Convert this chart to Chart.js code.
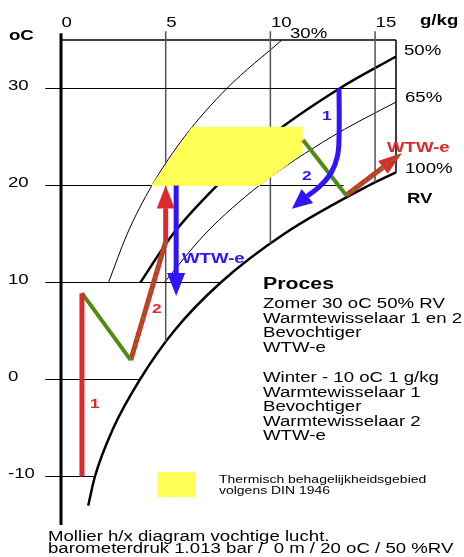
<!DOCTYPE html>
<html>
<head>
<meta charset="utf-8">
<script src="https://cdn.jsdelivr.net/npm/chart.js@4.4.1/dist/chart.umd.min.js"></script>
<style>
  html, body { margin: 0; padding: 0; background: #fff; }
  canvas { display: block; }
</style>
</head>
<body>
<canvas id="mollier" width="464" height="557"></canvas>
<script>
// x = absolute vocht g/kg, y = temperatuur oC
const xTicks = [0, 5, 10, 15];
const yTicks = [-10, 0, 10, 20, 30];

const rh30 = [[2.27, 10], [3.16, 15], [4.34, 20], [5.89, 25], [7.92, 30], [10.55, 35]];
const rh50 = [[3.79, 10], [5.35, 15], [7.45, 20], [9.95, 25], [13.3, 30], [16, 33.3]];
const rh65 = [[4.93, 10], [6.88, 15], [9.47, 20], [12.91, 25], [15.46, 28], [16, 28.6]];
const rh100 = [[1.3, -13], [1.62, -10], [2.5, -5], [3.77, 0], [5.4, 5], [7.63, 10], [10.65, 15], [14.7, 20], [16, 21.35]];

// isothermen en g/kg lijnen stoppen op de verzadigingslijn
const isoT = [30, 20, 10, 0, -10];
const isoEnd = [16, 13.5, 7.63, 3.77, 1.62];
const gLines = [5, 10, 15];
const gEnd = [3.9, 14.0, 20.3];

// behaaglijkheidsgebied DIN 1946
const comfort = [[4.34, 20], [6.27, 26], [11.5, 26], [11.5, 23.3], [10.4, 21.5], [9.47, 20], [4.34, 20]];

// zomer
const zomerWtw = [[13.28, 30], [13.28, 25], [13.2, 23], [12.9, 21.3], [12.35, 19.9], [11.7, 18.8], [11.03, 17.6]];
const zomerBevocht = [[11.56, 24.7], [13.62, 19.0]];
const zomerWtwE = [[13.62, 19.0], [16.29, 23.35]];

// winter
const winterWtw1 = [[1.0, -10], [1.0, 8.9]];
const winterBevocht = [[1.0, 8.9], [3.33, 2.0]];
const winterWtw2 = [[3.33, 2.0], [5.0, 14.2], [5.0, 20]];
const blueWtwE = [[5.5, 20], [5.5, 8.6]];

const RED = "#de2a2a";
const BLUE = "#2e14ff";
const GREEN = "#4f8c12";
const YELLOW = "#ffff55";
const FONT = '"Liberation Sans", Arial, sans-serif';
const SX = 1.33; // tekst is breed uitgerekt in het origineel

const pts = (a) => a.map(([x, y]) => ({ x, y }));

function line(data, color, width, extra) {
  return Object.assign(
    {
      data: pts(data),
      showLine: true,
      borderColor: color,
      borderWidth: width,
      pointRadius: 0,
      fill: false,
      clip: false,
      tension: 0,
      order: 10,
    },
    extra
  );
}

const datasets = [];

// raster
isoT.forEach((t, i) => datasets.push(line([[-0.75, t], [isoEnd[i], t]], "#000", 1.2)));
gLines.forEach((g, i) => datasets.push(line([[g, 35.9], [g, gEnd[i]]], "#555", 1.5)));
datasets.push(line([[0, 35], [16, 35]], "#000", 1.5));
datasets.push(line([[16, 35], [16, 21.35]], "#000", 1.5));
datasets.push(line([[0, 35.7], [0, -15]], "#000", 3));

// RV lijnen
datasets.push(line(rh30, "#000", 1, { cubicInterpolationMode: "monotone" }));
datasets.push(line(rh50, "#000", 2.5, { cubicInterpolationMode: "monotone" }));
datasets.push(line(rh65, "#000", 1, { cubicInterpolationMode: "monotone" }));
datasets.push(line(rh100, "#000", 2.5, { cubicInterpolationMode: "monotone" }));

// geel vlak
datasets.push(line(comfort, YELLOW, 1, { fill: "shape", backgroundColor: YELLOW, order: 5 }));

// processen
datasets.push(line(zomerWtw, BLUE, 5, { tension: 0.4, order: 2, arrow: { len: 20, width: 18 } }));
datasets.push(line(zomerBevocht, GREEN, 4, { order: 2 }));
datasets.push(line(zomerWtwE, RED, 5, { order: 2, arrow: { len: 24, width: 16 } }));
datasets.push(line(zomerWtwE, GREEN, 2, { order: 1, borderDash: [4, 3] }));

datasets.push(line(winterWtw1, RED, 5, { order: 2 }));
datasets.push(line(winterBevocht, GREEN, 4, { order: 2 }));
datasets.push(line(winterWtw2, RED, 5, { order: 2, arrow: { len: 23, width: 18 } }));
datasets.push(line(winterWtw2.slice(0, 2), GREEN, 2, { order: 1, borderDash: [4, 3] }));
datasets.push(line(blueWtwE, BLUE, 5, { order: 2, arrow: { len: 23, width: 18 } }));

function arrowGeom(meta, opt) {
  const n = meta.data.length;
  const p = meta.data[n - 1];
  const q = meta.data[n - 2];
  let ux = p.x - q.x;
  let uy = p.y - q.y;
  const d = Math.hypot(ux, uy);
  ux /= d;
  uy /= d;
  return { px: p.x, py: p.y, ux, uy, nx: -uy, ny: ux, bx: p.x - ux * opt.len, by: p.y - uy * opt.len, w: opt.width / 2 };
}

// pijlpunten: lijn stopt bij de basis, punt erop getekend
const arrowHeads = {
  id: "arrowHeads",
  beforeDatasetDraw(chart, args) {
    const ds = chart.data.datasets[args.index];
    if (!ds.arrow) return;
    const g = arrowGeom(args.meta, ds.arrow);
    const ctx = chart.ctx;
    const W = g.w + 6;
    ctx.save();
    ctx.beginPath();
    ctx.rect(0, 0, chart.width, chart.height);
    ctx.moveTo(g.bx + g.nx * W, g.by + g.ny * W);
    ctx.lineTo(g.px + g.ux * 6 + g.nx * W, g.py + g.uy * 6 + g.ny * W);
    ctx.lineTo(g.px + g.ux * 6 - g.nx * W, g.py + g.uy * 6 - g.ny * W);
    ctx.lineTo(g.bx - g.nx * W, g.by - g.ny * W);
    ctx.closePath();
    ctx.clip("evenodd");
  },
  afterDatasetDraw(chart, args) {
    const ds = chart.data.datasets[args.index];
    if (!ds.arrow) return;
    const ctx = chart.ctx;
    ctx.restore();
    const g = arrowGeom(args.meta, ds.arrow);
    ctx.save();
    ctx.fillStyle = ds.borderColor;
    ctx.beginPath();
    ctx.moveTo(g.px, g.py);
    ctx.lineTo(g.bx + g.nx * g.w, g.by + g.ny * g.w);
    ctx.lineTo(g.bx - g.nx * g.w, g.by - g.ny * g.w);
    ctx.closePath();
    ctx.fill();
    ctx.restore();
  },
};

function txt(ctx, s, x, y, size, bold, color) {
  ctx.save();
  ctx.font = (bold ? "bold " : "") + size + "px " + FONT;
  ctx.fillStyle = color || "#000";
  ctx.textBaseline = "alphabetic";
  ctx.textAlign = "left";
  ctx.translate(x, y);
  ctx.scale(SX, 1);
  ctx.fillText(s, 0, 0);
  ctx.restore();
}

const procesLines = [
  ["Zomer 30 oC 50% RV", 308],
  ["Warmtewisselaar 1 en 2", 322.5],
  ["Bevochtiger", 337],
  ["WTW-e", 351.5],
  ["Winter - 10 oC 1 g/kg", 382],
  ["Warmtewisselaar 1", 396.5],
  ["Bevochtiger", 411],
  ["Warmtewisselaar 2", 425.5],
  ["WTW-e", 440],
];

const labels = {
  id: "labels",
  afterDraw(chart) {
    const ctx = chart.ctx;
    const xs = chart.scales.x;
    const ys = chart.scales.y;

    xTicks.forEach((v) => txt(ctx, String(v), xs.getPixelForValue(v) + 0.5, 27, 14));
    yTicks.forEach((v) => txt(ctx, String(v), 8, ys.getPixelForValue(v) + 1, 14));
    txt(ctx, "oC", 9, 40, 14, true);
    txt(ctx, "g/kg", 420, 25, 14, true);

    txt(ctx, "30%", 290, 38, 14);
    txt(ctx, "50%", 404, 55, 14);
    txt(ctx, "65%", 405, 102, 14);
    txt(ctx, "100%", 405, 173, 14);
    txt(ctx, "RV", 407, 203, 14, true);

    txt(ctx, "WTW-e", 387, 152, 14, true, RED);
    txt(ctx, "WTW-e", 182, 263, 14, true, BLUE);
    txt(ctx, "1", 322, 120, 13, true, BLUE);
    txt(ctx, "2", 302, 180, 13, true, BLUE);
    txt(ctx, "1", 90, 408, 13, true, RED);
    txt(ctx, "2", 152, 313, 13, true, RED);

    txt(ctx, "Proces", 263, 289, 16, true);
    procesLines.forEach(([s, y]) => txt(ctx, s, 263, y, 14));

    // legenda
    ctx.fillStyle = YELLOW;
    ctx.fillRect(157, 472, 38, 25);
    txt(ctx, "Thermisch behagelijkheidsgebied", 219, 483, 10.5);
    txt(ctx, "volgens DIN 1946", 219, 494, 10.5);

    txt(ctx, "Mollier h/x diagram vochtige lucht.", 48, 541, 14);
    txt(ctx, "barometerdruk 1.013 bar /  0 m / 20 oC / 50 %RV", 48, 553, 14);
  },
};

new Chart(document.getElementById("mollier"), {
  type: "scatter",
  data: { datasets },
  options: {
    responsive: false,
    animation: false,
    devicePixelRatio: 1,
    layout: { padding: { left: 61, right: 68, top: 40, bottom: 32 } },
    scales: {
      x: { type: "linear", min: 0, max: 16, display: false },
      y: { type: "linear", min: -15, max: 35, display: false },
    },
    plugins: {
      legend: { display: false },
      tooltip: { enabled: false },
    },
  },
  plugins: [arrowHeads, labels],
});
</script>
</body>
</html>
